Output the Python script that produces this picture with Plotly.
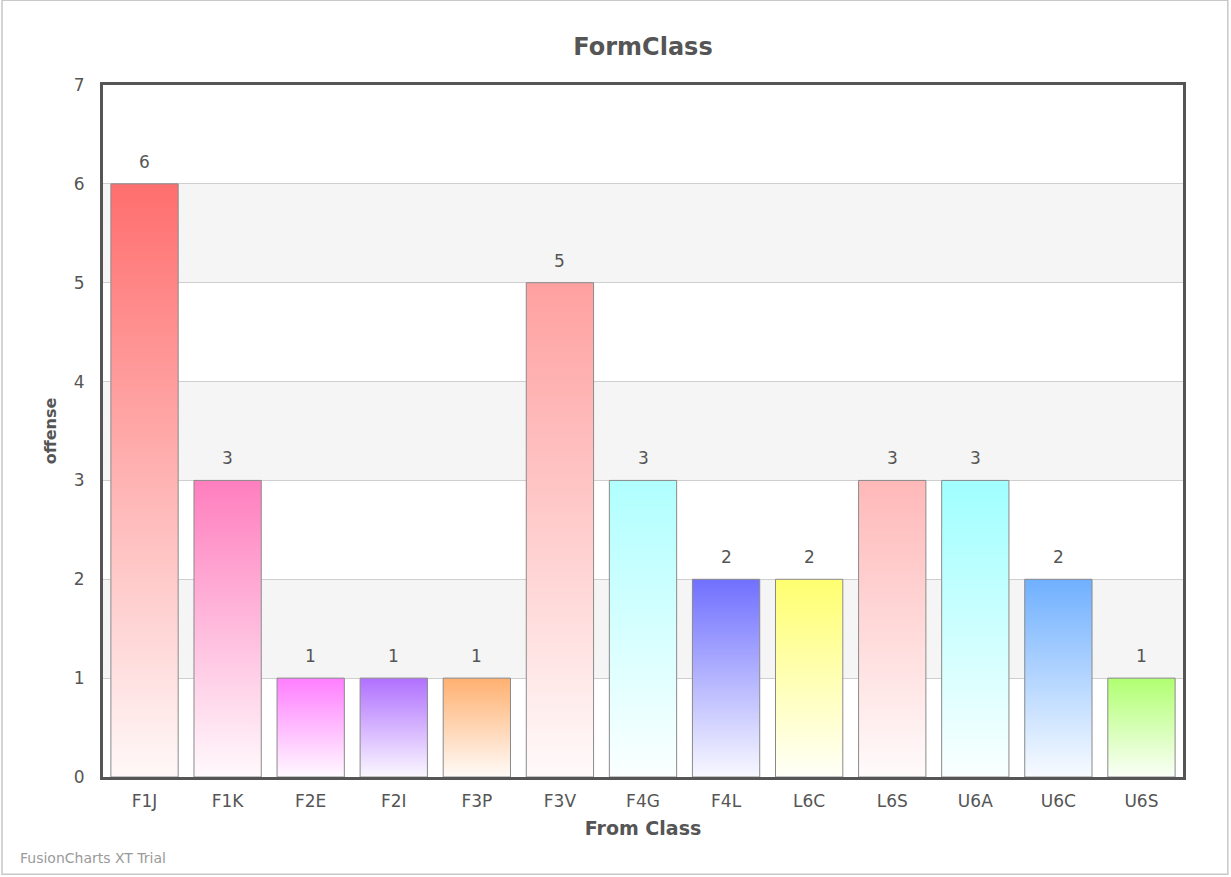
import plotly.graph_objects as go

# Offences per form class
classes = ["F1J", "F1K", "F2E", "F2I", "F3P", "F3V", "F4G", "F4L", "L6C", "L6S", "U6A", "U6C", "U6S"]
offense = [6, 3, 1, 1, 1, 5, 3, 2, 2, 3, 3, 2, 1]
top_colors = ["#FF6E6E", "#FF7EBE", "#FF7EFF", "#B070FF", "#FFB070", "#FFA0A0", "#B0FFFF",
              "#7070FF", "#FFFF70", "#FFB8B8", "#A0FFFF", "#70B0FF", "#B0FF70"]
y_ticks = [0, 1, 2, 3, 4, 5, 6, 7]

BAR_W = 0.81
FONT = "DejaVu Sans, Verdana, sans-serif"
TXT = "#555555"


def tint(hex_color, amount):
    """Blend a colour towards white."""
    h = hex_color.lstrip("#")
    r, g, b = (int(h[i:i + 2], 16) for i in (0, 2, 4))
    mix = lambda c: int(round(c + (255 - c) * amount))
    return f"rgb({mix(r)},{mix(g)},{mix(b)})"


fig = go.Figure()

# alternating horizontal bands
for lo in range(1, 7, 2):
    fig.add_shape(type="rect", xref="paper", x0=0, x1=1, yref="y", y0=lo, y1=lo + 1,
                  fillcolor="#F5F5F5", line_width=0, layer="below")

# gradient bars: colour at the top fading to near white at the base
for i, (name, v, col) in enumerate(zip(classes, offense, top_colors)):
    x0, x1 = i - BAR_W / 2, i + BAR_W / 2
    fig.add_trace(go.Scatter(
        x=[x0, x0, x1, x1, x0], y=[0, v, v, 0, 0],
        mode="lines", fill="toself",
        fillgradient=dict(type="vertical",
                          colorscale=[[0, tint(col, 0.95)], [1, col]]),
        line=dict(color="#8A8A8A", width=1),
        name=name, showlegend=False, hoverinfo="skip"))
    fig.add_annotation(x=i, y=v, text=str(v), showarrow=False, yanchor="bottom",
                       yshift=10, font=dict(family=FONT, size=17, color=TXT))

# outer frame of the chart
fig.add_shape(type="rect", xref="paper", yref="paper",
              x0=-0.0935, x1=1.0415, y0=-0.1405, y1=1.1225,
              line=dict(color="#C8C8C8", width=1.5), layer="below")

fig.add_annotation(text="FusionCharts XT Trial", xref="paper", yref="paper",
                   x=-0.079, y=-0.117, xanchor="left", yanchor="middle", showarrow=False,
                   font=dict(family=FONT, size=14, color="#9A9A9A"))

fig.update_layout(
    width=1231, height=877,
    margin=dict(l=103, r=48, t=85, b=100),
    paper_bgcolor="white", plot_bgcolor="white",
    title=dict(text="<b>FormClass</b>", x=0.5, xref="paper", xanchor="center",
               y=1 - 47 / 877, yref="container", yanchor="middle",
               font=dict(family=FONT, size=24, color=TXT)),
    xaxis=dict(range=[-0.5, len(classes) - 0.5], tickmode="array",
               tickvals=list(range(len(classes))), ticktext=classes,
               showgrid=False, zeroline=False, ticks="", ticklabelstandoff=7,
               showline=True, linecolor="#555555", linewidth=3, mirror=True,
               tickfont=dict(family=FONT, size=17, color=TXT),
               title=dict(text="<b>From Class</b>", standoff=12,
                          font=dict(family=FONT, size=19, color=TXT))),
    yaxis=dict(range=[0, 7], tickmode="array", tickvals=y_ticks,
               showgrid=True, gridcolor="#CFCFCF", gridwidth=1, zeroline=False,
               ticks="", ticklabelstandoff=12,
               showline=True, linecolor="#555555", linewidth=3, mirror=True,
               tickfont=dict(family=FONT, size=17, color=TXT),
               title=dict(text="<b>offense</b>", standoff=14,
                          font=dict(family=FONT, size=16, color=TXT))),
)

fig.write_html("out.html")
